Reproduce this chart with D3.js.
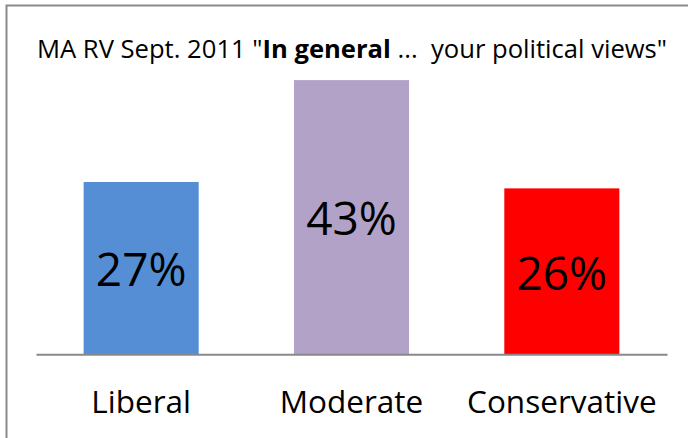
<!DOCTYPE html>
<html>
<head>
<meta charset="utf-8">
<script src="https://cdn.jsdelivr.net/npm/d3@7"></script>
<style>
  html, body { margin: 0; padding: 0; background: #fff; }
  svg { display: block; }
  text { font-family: "Open Sans", "Noto Sans", sans-serif; fill: #000; }
</style>
</head>
<body>
<svg id="chart" width="688" height="438"></svg>
<script>
// Survey data: MA registered voters, Sept. 2011
const categories = ["Liberal", "Moderate", "Conservative"];
const shares = [27, 43, 26];
const barColors = ["#558ED5", "#B3A2C7", "#FF0000"];
const titleParts = [
  { text: "MA RV Sept. 2011 \"", bold: false },
  { text: "In general", bold: true },
  { text: " ...  your political views\"", bold: false }
];

const svg = d3.select("#chart");

// Chart frame
svg.append("rect")
  .attr("x", 6.5).attr("y", 5.5)
  .attr("width", 700).attr("height", 460)
  .attr("fill", "none")
  .attr("stroke", "#8a8a8a")
  .attr("stroke-width", 2);

// Title
const title = svg.append("text")
  .attr("x", 352).attr("y", 58)
  .attr("text-anchor", "middle")
  .attr("font-size", 25.6)
  .style("white-space", "pre");
title.selectAll("tspan")
  .data(titleParts)
  .join("tspan")
  .attr("font-weight", d => d.bold ? "bold" : "normal")
  .text(d => d.text);

// Scales
const x = d3.scaleBand()
  .domain(categories)
  .range([36, 667])
  .paddingInner(0.453)
  .paddingOuter(0.2265);

const y = d3.scaleLinear()
  .domain([0, 50])
  .range([354, 35.5]);

const data = categories.map((c, i) => ({ cat: c, value: shares[i], color: barColors[i] }));

// Bars
svg.append("g").selectAll("rect")
  .data(data)
  .join("rect")
  .attr("x", d => x(d.cat))
  .attr("y", d => y(d.value))
  .attr("width", x.bandwidth())
  .attr("height", d => y(0) - y(d.value))
  .attr("fill", d => d.color);

// Category axis
const xAxis = svg.append("g")
  .attr("transform", `translate(0,${y(0) + 0.3})`)
  .call(d3.axisBottom(x).tickSize(0).tickPadding(0));
xAxis.select(".domain")
  .attr("stroke", "#898989")
  .attr("stroke-width", 2);
xAxis.selectAll(".tick text")
  .attr("y", 59)
  .attr("dy", null)
  .attr("font-size", 31.5)
  .attr("font-family", "\"Open Sans\", \"Noto Sans\", sans-serif")
  .attr("fill", "#000");

// Value labels inside bars
svg.append("g").selectAll("text")
  .data(data)
  .join("text")
  .attr("x", d => x(d.cat) + x.bandwidth() / 2)
  .attr("y", d => (y(d.value) + y(0)) / 2)
  .attr("dy", "0.4em")
  .attr("text-anchor", "middle")
  .attr("font-size", 46)
  .text(d => d.value + "%");
</script>
</body>
</html>
